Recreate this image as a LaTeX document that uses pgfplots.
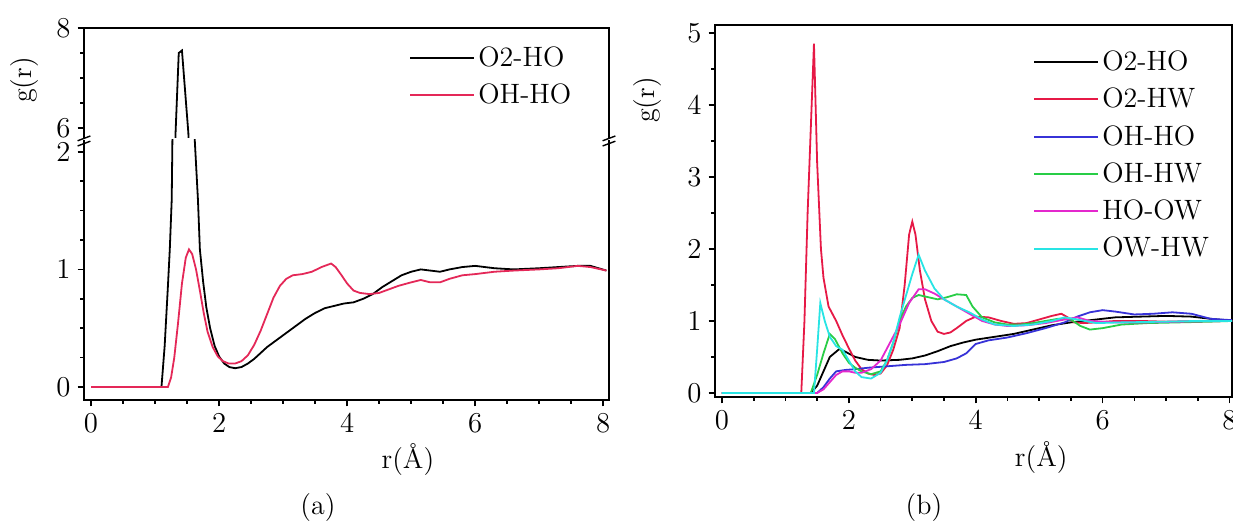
\documentclass[border=0pt]{standalone}
\usepackage{fontspec}
\usepackage{pgfplots}
\usepackage{pgfplotstable}
\pgfplotsset{compat=1.18}
\usetikzlibrary{calc}

\definecolor{lred}{RGB}{228,40,88}
\definecolor{myred}{RGB}{230,25,70}
\definecolor{myblue}{RGB}{55,50,215}
\definecolor{mygreen}{RGB}{40,205,70}
\definecolor{mymag}{RGB}{228,40,205}
\definecolor{mycyan}{RGB}{40,228,228}

% ---------- panel (a) ----------
\pgfplotstableread{
x y
0 0
1.10 0
1.15 0.35
1.20 0.85
1.23 1.17
1.26 1.59
1.29 3.0
1.32 5.9
1.37 7.50
1.42 7.55
1.52 5.9
1.58 3.5
1.62 2.1
1.67 1.59
1.70 1.17
1.75 0.9
1.80 0.68
1.86 0.5
1.93 0.35
2.00 0.26
2.08 0.2
2.16 0.17
2.25 0.16
2.35 0.17
2.45 0.2
2.55 0.24
2.65 0.29
2.75 0.34
2.90 0.40
3.05 0.46
3.20 0.52
3.35 0.58
3.50 0.63
3.65 0.67
3.80 0.69
3.95 0.71
4.10 0.72
4.25 0.75
4.40 0.79
4.55 0.85
4.70 0.90
4.85 0.95
5.00 0.98
5.15 1.00
5.30 0.99
5.45 0.98
5.60 1.00
5.80 1.02
6.00 1.03
6.15 1.02
6.30 1.01
6.60 1.00
7.00 1.01
7.30 1.02
7.60 1.03
7.80 1.03
8.05 0.99
}\aOtwoHO

\pgfplotstableread{
x y
0 0
1.20 0
1.25 0.08
1.30 0.25
1.36 0.55
1.42 0.88
1.48 1.10
1.53 1.17
1.58 1.13
1.64 1.00
1.70 0.82
1.76 0.63
1.82 0.47
1.90 0.34
1.98 0.26
2.06 0.22
2.15 0.20
2.25 0.20
2.35 0.22
2.45 0.27
2.55 0.36
2.65 0.48
2.75 0.62
2.85 0.76
2.95 0.86
3.05 0.92
3.15 0.95
3.30 0.96
3.45 0.98
3.60 1.02
3.75 1.05
3.82 1.02
3.90 0.96
4.00 0.88
4.10 0.82
4.20 0.80
4.35 0.79
4.50 0.80
4.65 0.83
4.80 0.86
5.00 0.89
5.15 0.91
5.30 0.89
5.45 0.89
5.60 0.92
5.80 0.95
6.00 0.96
6.30 0.98
6.60 0.99
7.00 1.00
7.30 1.01
7.60 1.03
7.80 1.02
8.05 0.99
}\aOHHO

% ---------- panel (b) ----------
\pgfplotstableread{
x y
0 0
1.40 0
1.50 0.10
1.60 0.30
1.70 0.50
1.85 0.61
1.95 0.57
2.10 0.50
2.30 0.46
2.50 0.45
2.80 0.46
3.00 0.48
3.20 0.52
3.40 0.58
3.60 0.65
3.80 0.70
4.00 0.74
4.30 0.78
4.60 0.82
4.90 0.88
5.20 0.94
5.50 0.98
5.80 1.01
6.20 1.05
6.60 1.06
7.00 1.07
7.40 1.06
7.70 1.03
8.05 1.00
}\bOtwoHO

\pgfplotstableread{
x y
0 0
1.25 0
1.30 1.00
1.35 2.50
1.45 4.85
1.50 3.20
1.56 2.00
1.60 1.60
1.68 1.20
1.80 1.00
1.90 0.80
2.00 0.62
2.10 0.45
2.20 0.33
2.30 0.27
2.40 0.25
2.50 0.27
2.60 0.38
2.70 0.60
2.80 0.90
2.88 1.50
2.95 2.20
3.00 2.38
3.05 2.20
3.12 1.70
3.20 1.30
3.30 1.00
3.40 0.85
3.50 0.82
3.60 0.84
3.70 0.90
3.85 1.00
4.00 1.06
4.20 1.05
4.40 1.00
4.60 0.96
4.80 0.97
5.00 1.02
5.20 1.07
5.35 1.10
5.45 1.05
5.55 0.98
5.70 0.97
5.90 0.98
6.20 1.00
6.60 1.00
7.00 0.99
7.50 1.00
8.05 1.00
}\bOtwoHW

\pgfplotstableread{
x y
0 0
1.50 0
1.60 0.08
1.70 0.20
1.80 0.30
1.95 0.32
2.10 0.33
2.30 0.35
2.60 0.37
2.90 0.39
3.20 0.40
3.50 0.43
3.70 0.48
3.85 0.55
4.00 0.68
4.20 0.73
4.50 0.77
4.80 0.83
5.10 0.90
5.40 0.98
5.60 1.06
5.80 1.12
6.00 1.15
6.20 1.13
6.50 1.09
6.80 1.10
7.10 1.12
7.40 1.10
7.70 1.03
8.05 1.01
}\bOHHO

\pgfplotstableread{
x y
0 0
1.40 0
1.50 0.25
1.60 0.55
1.70 0.82
1.78 0.75
1.90 0.55
2.00 0.42
2.10 0.35
2.20 0.30
2.35 0.26
2.50 0.30
2.60 0.45
2.70 0.70
2.80 1.00
2.90 1.20
3.00 1.32
3.10 1.36
3.25 1.33
3.40 1.30
3.55 1.33
3.70 1.37
3.85 1.36
3.95 1.20
4.10 1.05
4.30 0.98
4.50 0.95
4.70 0.95
4.90 0.97
5.10 1.00
5.30 1.03
5.50 1.02
5.65 0.93
5.80 0.88
6.00 0.90
6.30 0.95
6.70 0.97
7.20 0.98
7.70 0.99
8.05 1.00
}\bOHHW

\pgfplotstableread{
x y
0 0
1.50 0
1.60 0.05
1.70 0.15
1.80 0.25
1.90 0.30
2.00 0.30
2.10 0.28
2.20 0.28
2.35 0.33
2.50 0.45
2.65 0.70
2.80 0.95
2.95 1.25
3.10 1.44
3.20 1.44
3.35 1.38
3.50 1.30
3.70 1.20
3.90 1.10
4.10 1.00
4.30 0.95
4.50 0.93
4.80 0.94
5.10 0.97
5.40 1.02
5.60 1.05
5.80 1.00
6.20 0.98
6.70 0.98
7.20 0.99
8.05 1.00
}\bHOOW

\pgfplotstableread{
x y
0 0
1.45 0
1.50 0.60
1.55 1.25
1.62 1.00
1.70 0.78
1.80 0.65
1.90 0.60
2.00 0.45
2.10 0.30
2.20 0.22
2.35 0.20
2.50 0.28
2.60 0.45
2.70 0.70
2.80 1.05
2.90 1.35
3.00 1.65
3.10 1.92
3.20 1.70
3.35 1.45
3.50 1.30
3.70 1.20
3.90 1.12
4.10 1.02
4.30 0.95
4.60 0.93
4.90 0.95
5.20 1.00
5.40 1.05
5.60 1.02
5.90 0.97
6.30 0.98
7.00 0.99
7.50 1.00
8.05 1.00
}\bOWHW

\pgfplotsset{
  gstyle/.style={
    scale only axis,
    tick align=outside,
    xtick pos=bottom, ytick pos=left,
    major tick length=3.2pt, minor tick length=1.8pt,
    every tick/.style={black, line width=0.8pt},
    axis line style={line width=1pt},
    tick label style={font=\fontsize{14}{16}\selectfont},
    every axis label/.append style={font=\fontsize{14}{16}\selectfont},
    every axis plot/.append style={line width=0.9pt, mark=none},
    legend style={draw=none, fill=none, inner sep=0pt, anchor=north west,
      row sep=4.3pt, font=\fontsize{14}{16}\selectfont,
      nodes={inner sep=1.5pt}},
    legend cell align=left,
    legend image code/.code={\draw[##1, line width=1pt] (0pt,0pt) -- (32pt,0pt);},
  }
}

\begin{document}
\begin{tikzpicture}
\useasboundingbox (0,0) rectangle (616.5pt,261pt);

% ===== (a) lower part =====
\begin{axis}[gstyle,
  at={(42pt,61pt)}, anchor=south west,
  width=262.5pt, height=130pt,
  xmin=-0.11, xmax=8.09, ymin=-0.11, ymax=2.1,
  axis line style={draw=none},
  xtick={0,2,4,6,8}, minor x tick num=3,
  ytick={0,1,2}, minor y tick num=3,
  xlabel={r(Å)},
  xlabel style={at={(axis description cs:0.617,-0.231)}, anchor=center},
  clip mode=individual,
]
\addplot[black] table[x=x,y=y]{\aOtwoHO};
\addplot[lred] table[x=x,y=y]{\aOHHO};
\draw[line width=1pt] (rel axis cs:0,1) -- (rel axis cs:0,0) -- (rel axis cs:1,0) -- (rel axis cs:1,1);
\draw[line width=0.7pt] ($(rel axis cs:0,1)+(-3.2pt,-3pt)$) -- ++(6.4pt,2.4pt);
\draw[line width=0.7pt] ($(rel axis cs:0,1)+(-3.2pt,-0.4pt)$) -- ++(6.4pt,2.4pt);
\draw[line width=0.7pt] ($(rel axis cs:1,1)+(-3.2pt,-3pt)$) -- ++(6.4pt,2.4pt);
\draw[line width=0.7pt] ($(rel axis cs:1,1)+(-3.2pt,-0.4pt)$) -- ++(6.4pt,2.4pt);
\end{axis}

% ===== (a) upper part =====
\begin{axis}[gstyle,
  at={(42pt,192pt)}, anchor=south west,
  width=262.5pt, height=55pt,
  xmin=-0.11, xmax=8.09, ymin=5.8, ymax=8,
  axis line style={draw=none},
  xtick=\empty,
  ytick={6,8}, minor y tick num=3,
  ylabel={g(r)},
  ylabel style={at={(axis description cs:-0.114,0.527)}, anchor=center},
  legend style={at={(axis description cs:0.619,0.86)}},
  clip mode=individual,
]
\addplot[black] table[x=x,y=y]{\aOtwoHO};
\addplot[lred] table[x=x,y=y]{\aOHHO};
\draw[line width=1pt] (rel axis cs:0,0) -- (rel axis cs:0,1) -- (rel axis cs:1,1) -- (rel axis cs:1,0);
\legend{O2-HO,OH-HO}
\end{axis}

% ===== (b) =====
\begin{axis}[gstyle,
  at={(357.5pt,62.5pt)}, anchor=south west,
  width=258.5pt, height=186pt,
  xmin=-0.11, xmax=8.04, ymin=-0.056, ymax=5.11,
  xtick={0,2,4,6,8}, minor x tick num=3,
  ytick={0,1,2,3,4,5}, minor y tick num=1,
  xlabel={r(Å)},
  xlabel style={at={(axis description cs:0.631,-0.164)}, anchor=center},
  ylabel={g(r)},
  ylabel style={at={(axis description cs:-0.13,0.798)}, anchor=center},
  legend style={at={(axis description cs:0.615,0.94)}},
]
\addplot[black] table[x=x,y=y]{\bOtwoHO};
\addplot[myred] table[x=x,y=y]{\bOtwoHW};
\addplot[myblue] table[x=x,y=y]{\bOHHO};
\addplot[mygreen] table[x=x,y=y]{\bOHHW};
\addplot[mymag] table[x=x,y=y]{\bHOOW};
\addplot[mycyan] table[x=x,y=y]{\bOWHW};
\legend{O2-HO,O2-HW,OH-HO,OH-HW,HO-OW,OW-HW}
\end{axis}

\node[font=\fontsize{14}{16}\selectfont] at (159pt,7pt) {(a)};
\node[font=\fontsize{14}{16}\selectfont] at (462pt,7pt) {(b)};
\end{tikzpicture}
\end{document}
